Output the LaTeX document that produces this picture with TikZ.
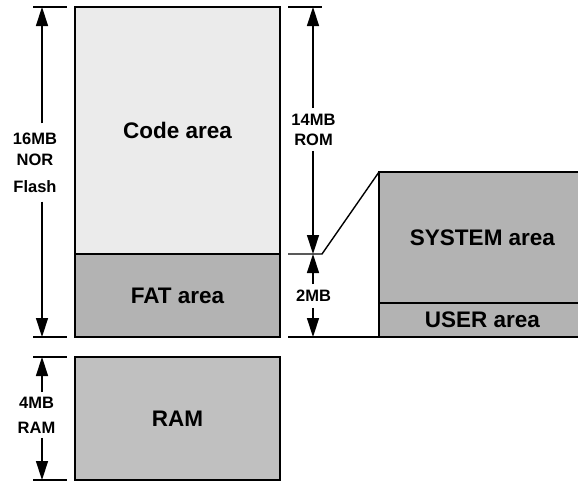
\documentclass[tikz,border=0pt]{standalone}
\usepackage{fontspec}
\setmainfont{Liberation Sans}
\usetikzlibrary{arrows.meta}
\definecolor{codegray}{HTML}{EBEBEB}
\definecolor{fatgray}{HTML}{B3B3B3}
\definecolor{ramgray}{HTML}{C0C0C0}
\tikzset{
  area/.style={draw=black, line width=1.9pt, inner sep=0pt, outer sep=0pt, anchor=north west,
    font=\fontsize{22.5}{27}\selectfont\bfseries},
  dimlabel/.style={align=center, inner xsep=2pt,
    font=\fontsize{16.5}{20}\selectfont\bfseries},
  dimarrow/.style={-{Triangle[length=19pt,width=12pt]}, line width=1.4pt},
  tickline/.style={line width=1.4pt}
}
\begin{document}
\begin{tikzpicture}[x=1pt,y=-1pt]
\path[use as bounding box, clip] (0,0) rectangle (578,482);

% boxes
\node[area, fill=codegray, minimum width=205pt, minimum height=247pt] (code) at (75,7) {Code area};
\node[area, fill=fatgray, minimum width=205pt, minimum height=83pt] (fat) at (75,254) {FAT area};
\node[area, fill=ramgray, minimum width=205pt, minimum height=123pt] (ram) at (75,357) {RAM};
\node[area, fill=fatgray, minimum width=207pt, minimum height=131pt] (sys) at (379,172) {SYSTEM area};
\node[area, fill=fatgray, minimum width=207pt, minimum height=34pt] (user) at (379,303) {USER area};

% tick coordinates
\coordinate (l1a) at (33,7);   \coordinate (l1b) at (67,7);
\coordinate (l2a) at (33,337); \coordinate (l2b) at (67,337);
\coordinate (l3a) at (33,357); \coordinate (l3b) at (67,357);
\coordinate (l4a) at (33,480); \coordinate (l4b) at (67,480);
\coordinate (r1a) at (288,7);   \coordinate (r1b) at (322,7);
\coordinate (r2a) at (288,254); \coordinate (r2b) at (322,254);
\coordinate (r3a) at (288,337);

\draw[tickline] (l1a) -- (l1b);
\draw[tickline] (l2a) -- (l2b);
\draw[tickline] (l3a) -- (l3b);
\draw[tickline] (l4a) -- (l4b);
\draw[tickline] (r1a) -- (r1b);
\draw[tickline] (r2a) -- (r2b) -- (sys.north west);
\draw[tickline] (r3a) -- (user.south west);

% arrow end points
\coordinate (a16t) at (42,7);
\coordinate (a16b) at (42,337);
\coordinate (a4t) at (42,357);
\coordinate (a4b) at (42,480);
\coordinate (a14t) at (313,7);
\coordinate (amid) at (313,254);
\coordinate (a2b) at (313,337);

% labels
\node[dimlabel, inner ysep=9pt] (lab16) at (35,162.5) {16MB\\[1pt]NOR\\[7pt]Flash};
\node[dimlabel, inner ysep=5.5pt] (lab14) at (313.5,129.5) {14MB\\ROM};
\node[dimlabel, inner ysep=6pt] (lab2) at (313.5,296) {2MB};
\node[dimlabel, inner ysep=4.5pt] (lab4) at (36.5,415) {4MB\\[5pt]RAM};

% dimension arrows
\draw[dimarrow] (lab16.north -| a16t) -- (a16t);
\draw[dimarrow] (lab16.south -| a16b) -- (a16b);
\draw[dimarrow] (lab14.north -| a14t) -- (a14t);
\draw[dimarrow] (lab14.south -| amid) -- (amid);
\draw[dimarrow] (lab2.north -| amid) -- (amid);
\draw[dimarrow] (lab2.south -| a2b) -- (a2b);
\draw[dimarrow] (lab4.north -| a4t) -- (a4t);
\draw[dimarrow] (lab4.south -| a4b) -- (a4b);
\end{tikzpicture}
\end{document}
